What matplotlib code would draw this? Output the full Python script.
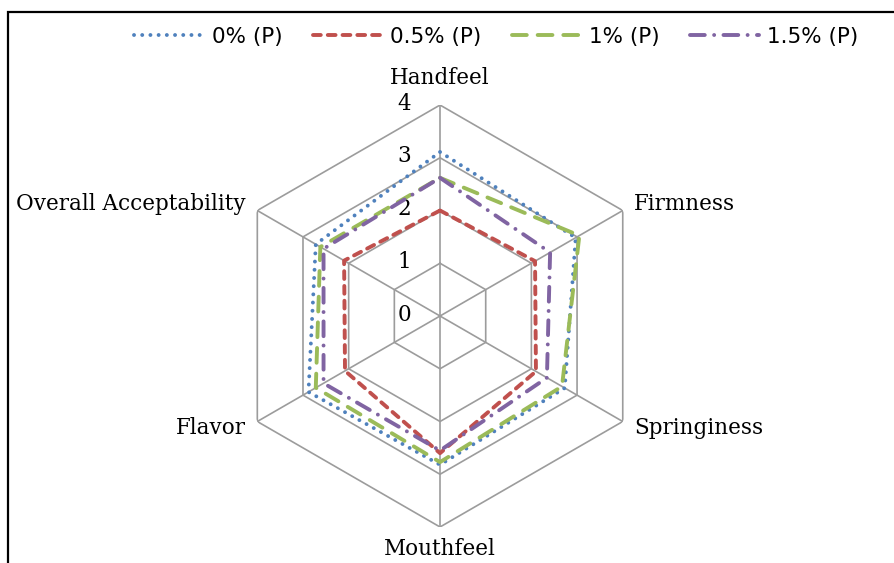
import numpy as np
import matplotlib.pyplot as plt
from matplotlib.patches import Rectangle

# sensory attributes, clockwise from top
categories = ['Handfeel', 'Firmness', 'Springiness', 'Mouthfeel', 'Flavor', 'Overall Acceptability']
series_names = ['0% (P)', '0.5% (P)', '1% (P)', '1.5% (P)']
p0 = [3.11, 2.97, 2.73, 2.82, 2.88, 2.72]
p05 = [2.0, 2.08, 2.1, 2.6, 2.08, 2.1]
p1 = [2.62, 3.05, 2.67, 2.77, 2.72, 2.62]
p15 = [2.62, 2.41, 2.34, 2.55, 2.55, 2.55]
levels = [0, 1, 2, 3, 4]

colors = ['#4F81BD', '#C0504D', '#9BBB59', '#8064A2']
dashes = [(0.01, 2.1), (2.0, 1.8), (3.8, 2.8), (3.8, 2.4, 0.01, 2.4)]

fig = plt.figure(figsize=(8.94, 5.63), dpi=100)
ax = fig.add_axes([0.2562, 0.0639, 0.472, 0.7496], projection='polar')
ax.set_theta_offset(np.pi / 2)
ax.set_theta_direction(-1)
ax.set_ylim(0, 4)
ax.grid(False)
ax.spines['polar'].set_visible(False)
ax.set_xticks([])
ax.set_yticks([])
ax.patch.set_alpha(0)

n = len(categories)
angles = np.arange(n) * 2 * np.pi / n
closed = np.append(angles, angles[0])

# hexagonal grid
grid_c = '#9C9C9C'
for lv in levels[1:]:
    ax.plot(closed, [lv] * (n + 1), color=grid_c, lw=1.2, zorder=1)
for a in angles:
    ax.plot([a, a], [0, 4], color=grid_c, lw=1.2, zorder=1)

for lv in levels:
    ax.annotate(str(lv), xy=(0, lv), xytext=(-21, 1), textcoords='offset points',
                ha='right', va='center', fontsize=15.5, family='DejaVu Serif')

for vals, c, d, name in zip([p0, p05, p1, p15], colors, dashes, series_names):
    ln, = ax.plot(closed, vals + vals[:1], color=c, lw=2.8, label=name,
                  solid_capstyle='round', dash_capstyle='round', zorder=3)
    ln.set_dashes(d)

# category labels
lab_pos = [(0, 4.3, 'center', 'bottom'), (angles[1], 4.25, 'left', 'center'),
           (angles[2], 4.25, 'left', 'center'), (angles[3], 4.2, 'center', 'top'),
           (angles[4], 4.25, 'right', 'center'), (angles[5], 4.25, 'right', 'center')]
for cat, (a, r, ha, va) in zip(categories, lab_pos):
    ax.text(a, r, cat, ha=ha, va=va, fontsize=15.5, family='DejaVu Serif', clip_on=False)

leg = fig.legend(loc='center left', bbox_to_anchor=(115 / 894, 1 - 37 / 563), ncol=4,
                 frameon=False, handlelength=3.2, handletextpad=0.4, columnspacing=1.4,
                 prop={'family': 'DejaVu Sans', 'size': 15.5})

fig.add_artist(Rectangle((8 / 894, -0.2), 1.2, 1.2 - 12 / 563, transform=fig.transFigure,
                         fill=False, ec='black', lw=1.6))

fig.savefig('out.png', dpi=100)
